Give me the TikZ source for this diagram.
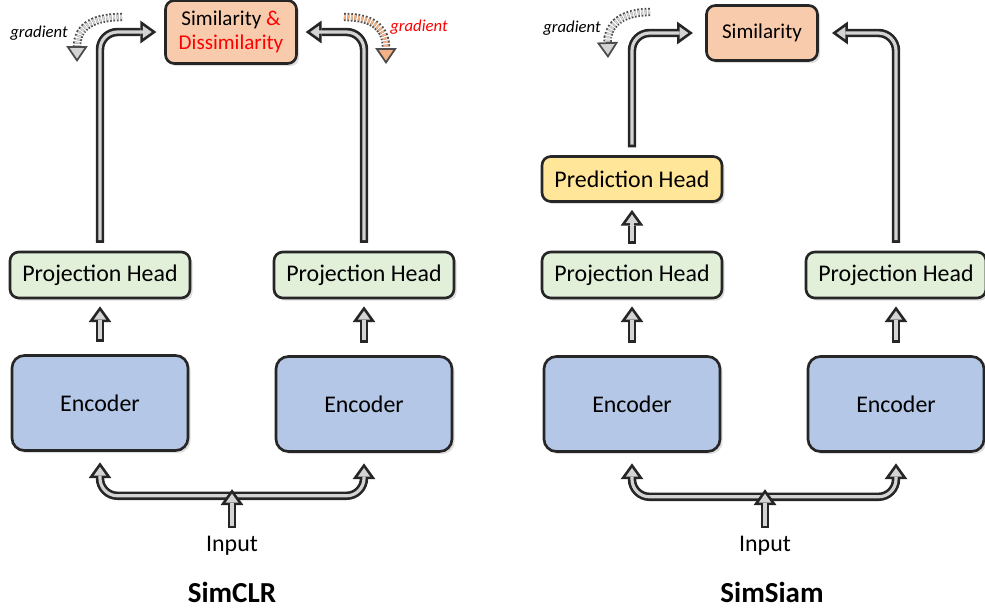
\documentclass[tikz,border=0pt]{standalone}
\usepackage{fontspec}
\setmainfont{Carlito}
\usetikzlibrary{arrows.meta, positioning, shadows, calc}

\definecolor{encblue}{HTML}{B4C7E7}
\definecolor{projgreen}{HTML}{E2F0D9}
\definecolor{predyellow}{HTML}{FFE699}
\definecolor{simorange}{HTML}{F8CBAD}
\definecolor{arrowgray}{HTML}{D4D4D4}
\definecolor{gradorange}{HTML}{F4B183}

\tikzset{
  box/.style={draw=black!85, line width=1.5pt, rounded corners=5pt, align=center,
    font=\fontsize{13.6}{16}\selectfont,
    drop shadow={opacity=0.25, shadow xshift=1.5pt, shadow yshift=-1.5pt}},
  encbox/.style={box, fill=encblue, minimum width=3.52cm, minimum height=1.9cm, rounded corners=7pt},
  projbox/.style={box, fill=projgreen, minimum width=3.6cm, minimum height=0.92cm},
  predbox/.style={box, fill=predyellow, minimum width=3.6cm, minimum height=0.9cm},
  simbox/.style={box, fill=simorange, minimum height=1.1cm, font=\fontsize{12}{14}\selectfont},
  % hollow block arrow: black outline first, grey core on top
  flow/.style 2 args={draw=black!85, line width=4.8pt, rounded corners=10pt,
    -{Triangle[length=9pt, width=13pt, line width=0pt]}, shorten <=#1, shorten >=#2,
    postaction={draw=arrowgray, line width=1.8pt, -{Triangle[length=5pt, width=7.1pt, line width=0pt]},
      shorten <=#1+1.5pt, shorten >=#2+2.6pt}},
  twoway/.style 2 args={draw=black!85, line width=4.8pt, rounded corners=10pt,
    {Triangle[length=9pt, width=13pt, line width=0pt]}-{Triangle[length=9pt, width=13pt, line width=0pt]},
    shorten <=#1, shorten >=#2,
    postaction={draw=arrowgray, line width=1.8pt,
      {Triangle[length=5pt, width=7.1pt, line width=0pt]}-{Triangle[length=5pt, width=7.1pt, line width=0pt]},
      shorten <=#1+2.6pt, shorten >=#2+2.6pt}},
  gradflow/.style={draw=black!70, line width=1pt, densely dotted, double=#1, double distance=2.8pt,
    -{Triangle[length=9pt, width=12pt, fill=#1]}},
  gradlabel/.style={font=\fontsize{9.5}{11}\selectfont\itshape},
  title/.style={font=\fontsize{16.5}{19}\selectfont\bfseries},
  inlabel/.style={font=\fontsize{13.6}{16}\selectfont}
}

\begin{document}
\begin{tikzpicture}[x=0.02cm, y=-0.02cm]
    \useasboundingbox (0,0) rectangle (985,613);

    % SimCLR: two branches, both sides get a gradient
    \node[encbox] (encL) at (100,403) {Encoder};
    \node[encbox] (encR) at (364,404) {Encoder};
    \node[projbox] (projL) at (100,275) {Projection Head};
    \node[projbox] (projR) at (364,275) {Projection Head};
    \node[simbox, minimum width=2.62cm, minimum height=1.26cm] (simL) at (231,32)
        {Similarity \textcolor{red}{\&}\\ \textcolor{red}{Dissimilarity}};
    \node[inlabel] (inL) at (232,546) {Input};
    \node[title] (titleL) at (232,592) {SimCLR};

    \draw[flow={7pt}{4pt}] (encL.north) -- (projL.south);
    \draw[flow={7pt}{4pt}] (encR.north) -- (projR.south);
    \draw[flow={4.5pt}{4.5pt}] (projL.north) |- (simL.west);
    \draw[flow={4.5pt}{4.5pt}] (projR.north) |- (simL.east);
    \draw[twoway={6pt}{6pt}] (encL.south) -- ++(0,44) -| (encR.south);
    \draw[flow={1pt}{0pt}] (inL.north) -- ++(0,-41);

    % gradient hints
    \coordinate (gLa) at (122,17);
    \coordinate (gLb) at (77,62);
    \coordinate (gRa) at (344,17);
    \coordinate (gRb) at (386,64);
    \draw[gradflow=arrowgray] (gLa) .. controls (88,17) and (77,30) .. (gLb);
    \draw[gradflow=gradorange] (gRa) .. controls (376,17) and (386,30) .. (gRb);
    \node[gradlabel] (gtL) at (39,33) {gradient};
    \node[gradlabel, text=red] (gtR) at (419,27) {gradient};

    % SimSiam: predictor on one side, gradient only there
    \node[encbox] (encA) at (632,404) {Encoder};
    \node[encbox] (encB) at (896,404) {Encoder};
    \node[projbox] (projA) at (632,275) {Projection Head};
    \node[projbox] (projB) at (896,275) {Projection Head};
    \node[predbox] (predA) at (632,179) {Prediction Head};
    \node[simbox, minimum width=2.22cm] (simR) at (762,33) {Similarity};
    \node[inlabel] (inR) at (765,546) {Input};
    \node[title] (titleR) at (772,592) {SimSiam};

    \draw[flow={7pt}{4pt}] (encA.north) -- (projA.south);
    \draw[flow={7pt}{4pt}] (encB.north) -- (projB.south);
    \draw[flow={4pt}{4pt}] (projA.north) -- (predA.south);
    \draw[flow={4.5pt}{7pt}] (predA.north) |- (simR.west);
    \draw[flow={4.5pt}{7.5pt}] (projB.north) |- (simR.east);
    \draw[twoway={6pt}{6pt}] (encA.south) -- ++(0,44) -| (encB.south);
    \draw[flow={1pt}{0pt}] (inR.north) -- ++(0,-41);

    \coordinate (gAa) at (650,12);
    \coordinate (gAb) at (608,58);
    \draw[gradflow=arrowgray] (gAa) .. controls (618,12) and (607,28) .. (gAb);
    \node[gradlabel] (gtA) at (572,28) {gradient};
\end{tikzpicture}
\end{document}
